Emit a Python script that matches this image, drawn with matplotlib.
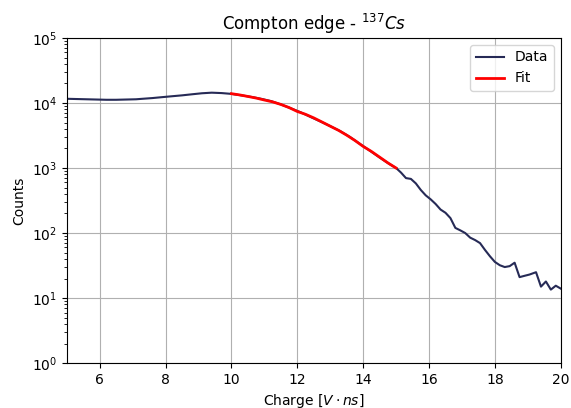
import matplotlib
matplotlib.use('Agg')
import matplotlib.pyplot as plt

# measured spectrum
charge = [5.0, 5.3, 5.6, 5.9, 6.2, 6.5, 6.8, 7.1, 7.3, 7.6, 7.9, 8.2, 8.5, 8.8,
          9.1, 9.4, 9.7, 10.0, 10.3, 10.6, 10.9, 11.2, 11.5, 11.8, 12.1, 12.4,
          12.7, 13.0, 13.3, 13.6, 13.9, 14.2, 14.5, 14.8, 15.0, 15.15, 15.3,
          15.45, 15.6, 15.75, 15.9, 16.05, 16.2, 16.35, 16.5, 16.65, 16.8,
          16.95, 17.1, 17.25, 17.4, 17.55, 17.7, 17.85, 18.0, 18.15, 18.3,
          18.45, 18.6, 18.75, 18.9, 19.05, 19.25, 19.4, 19.55, 19.7, 19.85, 20.0]
counts = [11600, 11500, 11400, 11300, 11200, 11200, 11300, 11400, 11600, 11900,
          12300, 12700, 13100, 13600, 14100, 14400, 14200, 13800, 13100, 12400,
          11600, 10700, 9500, 8300, 7200, 6100, 5200, 4400, 3700, 3000, 2350,
          1850, 1450, 1150, 1000, 850, 700, 680, 580, 460, 380, 330, 280, 230,
          205, 170, 120, 110, 100, 85, 78, 70, 55, 44, 36, 32, 30, 31, 35, 21,
          22, 23, 25, 15, 18, 13.5, 15.5, 14]

# fit over the compton edge
fit_x = [10.0, 10.25, 10.5, 10.75, 11.0, 11.25, 11.5, 11.75, 12.0, 12.25, 12.5,
         12.75, 13.0, 13.25, 13.5, 13.75, 14.0, 14.25, 14.5, 14.75, 15.0]
fit_y = [13900, 13300, 12600, 11900, 11100, 10400, 9500, 8500, 7400, 6700, 5900,
         5100, 4400, 3800, 3200, 2650, 2150, 1800, 1470, 1200, 1000]

fig, ax = plt.subplots(figsize=(5.71, 4.08), dpi=100)
fig.subplots_adjust(left=0.117, right=0.982, bottom=0.110, top=0.907)

ax.plot(charge, counts, color='#262a56', lw=1.5, label='Data')
ax.plot(fit_x, fit_y, color='red', lw=2, label='Fit')

ax.set_yscale('log')
ax.set_xlim(5, 20)
ax.set_ylim(1, 1e5)
ax.grid(True, color='#b0b0b0')
ax.set_axisbelow(True)

ax.set_title('Compton edge - $^{137}Cs$')
ax.set_xlabel(r'Charge $[V \cdot ns]$')
ax.set_ylabel('Counts')
ax.legend(loc='upper right')

plt.savefig('out.png')
